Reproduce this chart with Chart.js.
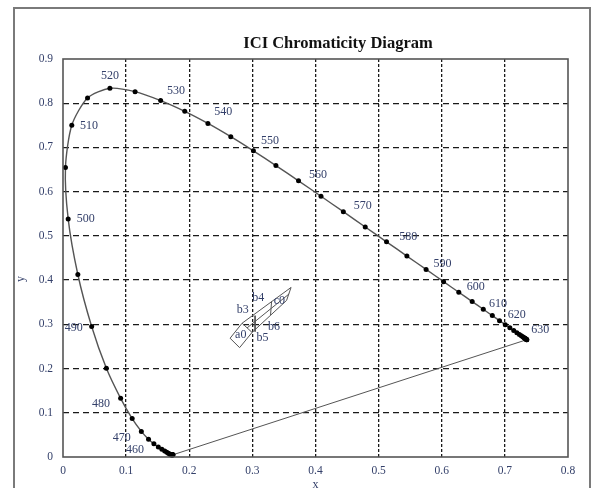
<!DOCTYPE html>
<html>
<head>
<meta charset="utf-8">
<script src="https://cdn.jsdelivr.net/npm/chart.js@4.4.1/dist/chart.umd.min.js"></script>
<style>
  html, body { margin: 0; padding: 0; background: #fff; }
  #wrap { width: 593px; height: 488px; }
</style>
</head>
<body>
<div id="wrap"><canvas id="cie"></canvas></div>
<script>
// spectral locus, CIE 1931, 380-700 nm every 5 nm
const locusX = [0.1741, 0.1740, 0.1738, 0.1736, 0.1733, 0.1730, 0.1726, 0.1721, 0.1714, 0.1703,
  0.1689, 0.1669, 0.1644, 0.1611, 0.1566, 0.1510, 0.1440, 0.1355, 0.1241, 0.1096,
  0.0913, 0.0687, 0.0454, 0.0235, 0.0082, 0.0039, 0.0139, 0.0389, 0.0743, 0.1142,
  0.1547, 0.1929, 0.2296, 0.2658, 0.3016, 0.3373, 0.3731, 0.4087, 0.4441, 0.4788,
  0.5125, 0.5448, 0.5752, 0.6029, 0.6270, 0.6482, 0.6658, 0.6801, 0.6915, 0.7006,
  0.7079, 0.7140, 0.7190, 0.7230, 0.7260, 0.7283, 0.7300, 0.7311, 0.7320, 0.7327,
  0.7334, 0.7340, 0.7344, 0.7346, 0.7347];
const locusY = [0.0050, 0.0050, 0.0049, 0.0049, 0.0048, 0.0048, 0.0048, 0.0048, 0.0051, 0.0058,
  0.0069, 0.0086, 0.0109, 0.0138, 0.0177, 0.0227, 0.0297, 0.0399, 0.0578, 0.0868,
  0.1327, 0.2007, 0.2950, 0.4127, 0.5384, 0.6548, 0.7502, 0.8120, 0.8338, 0.8262,
  0.8059, 0.7816, 0.7543, 0.7243, 0.6923, 0.6589, 0.6245, 0.5896, 0.5547, 0.5202,
  0.4866, 0.4544, 0.4242, 0.3965, 0.3725, 0.3514, 0.3340, 0.3197, 0.3083, 0.2993,
  0.2920, 0.2859, 0.2809, 0.2770, 0.2740, 0.2717, 0.2700, 0.2689, 0.2680, 0.2673,
  0.2666, 0.2660, 0.2656, 0.2654, 0.2653];

// purple line, 700 nm back to 380 nm
const purpleX = [0.7347, 0.1741];
const purpleY = [0.2653, 0.0050];

// wavelength labels (where the text sits)
const waveText = ['460', '470', '480', '490', '500', '510', '520', '530', '540',
  '550', '560', '570', '580', '590', '600', '610', '620', '630'];
const waveX = [0.114, 0.093, 0.060, 0.017, 0.036, 0.041, 0.0745, 0.179, 0.254,
  0.328, 0.404, 0.475, 0.547, 0.601, 0.654, 0.689, 0.719, 0.756];
const waveY = [0.016, 0.043, 0.120, 0.292, 0.538, 0.749, 0.862, 0.828, 0.780,
  0.715, 0.638, 0.568, 0.498, 0.437, 0.385, 0.346, 0.321, 0.287];

// sample region outline and dividers
const outlineX = [0.2647, 0.2837, 0.3613, 0.3542, 0.2995, 0.2798, 0.2647];
const outlineY = [0.2686, 0.3025, 0.3835, 0.3541, 0.2817, 0.2473, 0.2686];
const a0EdgeX = [0.2837, 0.2995];
const a0EdgeY = [0.3025, 0.2817];
const midLineX = [0.2916, 0.3582];
const midLineY = [0.2919, 0.3688];
const cut1X = [0.3043, 0.3043];
const cut1Y = [0.3195, 0.2835];
const cut2X = [0.3304, 0.3288];
const cut2Y = [0.3516, 0.3210];

const regionText = ['a0', 'b3', 'b4', 'c0', 'b6', 'b5'];
const regionX = [0.2816, 0.2848, 0.3095, 0.3428, 0.3344, 0.3159];
const regionY = [0.2760, 0.3326, 0.3604, 0.3536, 0.2948, 0.2699];

const xTicks = [0, 0.1, 0.2, 0.3, 0.4, 0.5, 0.6, 0.7, 0.8];
const yTicks = [0, 0.1, 0.2, 0.3, 0.4, 0.5, 0.6, 0.7, 0.8, 0.9];

const SERIF = '"Liberation Serif", "DejaVu Serif", serif';
const LABEL_COL = '#34406a';

const pts = (xs, ys) => xs.map((x, i) => ({ x, y: ys[i] }));
const segment = (xs, ys) => ({
  data: pts(xs, ys), showLine: true, borderColor: '#555', borderWidth: 1,
  pointRadius: 0, tension: 0, fill: false
});

const decor = {
  id: 'decor',
  beforeDraw(chart) {
    const { ctx } = chart;
    ctx.save();
    ctx.fillStyle = '#fff';
    ctx.fillRect(0, 0, chart.width, chart.height);
    ctx.strokeStyle = '#7a7a7a';
    ctx.lineWidth = 2;
    ctx.strokeRect(14, 8, 576, 520);
    ctx.restore();
  },
  afterDatasetsDraw(chart) {
    const { ctx, chartArea: a, scales: { x, y } } = chart;
    ctx.save();
    ctx.strokeStyle = '#555';
    ctx.lineWidth = 1.6;
    ctx.strokeRect(a.left, a.top, a.right - a.left, a.bottom - a.top);

    ctx.fillStyle = LABEL_COL;
    ctx.font = '12px ' + SERIF;
    ctx.textAlign = 'center';
    ctx.textBaseline = 'middle';
    waveText.forEach((t, i) => ctx.fillText(t, x.getPixelForValue(waveX[i]), y.getPixelForValue(waveY[i])));
    regionText.forEach((t, i) => ctx.fillText(t, x.getPixelForValue(regionX[i]), y.getPixelForValue(regionY[i])));

    // title and y axis title
    ctx.fillStyle = '#111';
    ctx.font = 'bold 16.5px ' + SERIF;
    ctx.fillText('ICI Chromaticity Diagram', 338, 44);
    ctx.fillStyle = LABEL_COL;
    ctx.font = '12px ' + SERIF;
    ctx.translate(21, (a.top + a.bottom) / 2 + 21);
    ctx.rotate(-Math.PI / 2);
    ctx.fillText('y', 0, 0);
    ctx.restore();
  }
};

const gridCol = (ticks) => c => (c.tick && (c.tick.value === ticks[0] || c.tick.value === ticks[ticks.length - 1])) ? 'rgba(0,0,0,0)' : '#1a1a1a';

new Chart(document.getElementById('cie'), {
  type: 'scatter',
  data: {
    datasets: [
      {
        data: pts(locusX, locusY), showLine: true, borderColor: '#555', borderWidth: 1.4,
        pointRadius: 2.5, pointBackgroundColor: '#000', pointBorderWidth: 0,
        tension: 0.25, clip: false
      },
      segment(purpleX, purpleY),
      segment(outlineX, outlineY),
      segment(a0EdgeX, a0EdgeY),
      segment(midLineX, midLineY),
      segment(cut1X, cut1Y),
      segment(cut2X, cut2Y)
    ]
  },
  options: {
    responsive: true, maintainAspectRatio: false, animation: false,
    layout: { padding: { top: 59, right: 25, bottom: 0, left: 0 } },
    plugins: { legend: { display: false }, tooltip: { enabled: false }, title: { display: false } },
    scales: {
      x: {
        type: 'linear', min: 0, max: 0.8,
        afterBuildTicks: s => { s.ticks = xTicks.map(v => ({ value: v })); },
        afterFit: s => { s.height = 31; },
        grid: { color: gridCol(xTicks), lineWidth: 1.3, drawTicks: false },
        border: { display: false, dash: [3, 2] },
        ticks: { padding: 7, color: LABEL_COL, font: { size: 11.5, family: SERIF }, callback: v => String(Math.round(v * 10) / 10) },
        title: { display: true, text: 'x', color: LABEL_COL, font: { size: 12, family: SERIF }, padding: { top: 0, bottom: -4 } }
      },
      y: {
        type: 'linear', min: 0, max: 0.9,
        afterBuildTicks: s => { s.ticks = yTicks.map(v => ({ value: v })); },
        afterFit: s => { s.width = 63; },
        grid: { color: gridCol(yTicks), lineWidth: 1.3, drawTicks: false },
        border: { display: false, dash: [6, 4] },
        ticks: { padding: 10, color: LABEL_COL, font: { size: 11.5, family: SERIF }, callback: v => String(Math.round(v * 10) / 10) }
      }
    }
  },
  plugins: [decor]
});
</script>
</body>
</html>
